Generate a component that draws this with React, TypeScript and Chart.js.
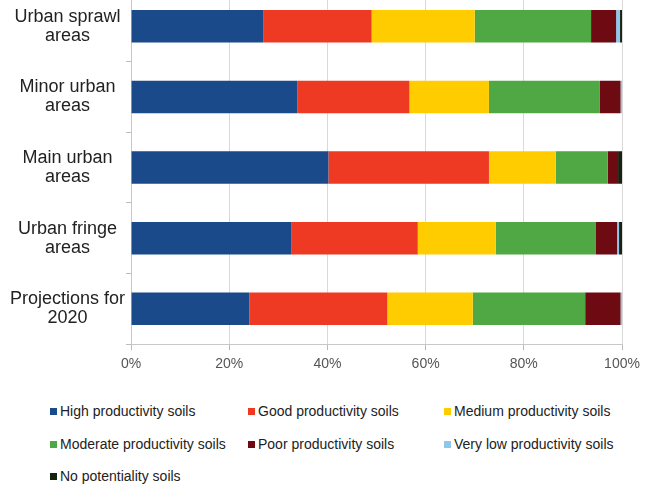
import React, { useEffect, useRef } from "react";
import { Chart, registerables } from "chart.js";

Chart.register(...registerables);

const categories: string[][] = [
  ["Urban sprawl", "areas"],
  ["Minor urban", "areas"],
  ["Main urban", "areas"],
  ["Urban fringe", "areas"],
  ["Projections for", "2020"],
];

const seriesNames = [
  "High productivity soils",
  "Good productivity soils",
  "Medium productivity soils",
  "Moderate productivity soils",
  "Poor productivity soils",
  "Very low productivity soils",
  "No potentiality soils",
];

const highProductivity = [26.9, 33.9, 40.2, 32.7, 24.1];
const goodProductivity = [22.1, 22.8, 32.7, 25.7, 28.1];
const mediumProductivity = [21.0, 16.2, 13.6, 15.9, 17.4];
const moderateProductivity = [23.7, 22.6, 10.6, 20.4, 22.9];
const poorProductivity = [5.1, 4.2, 2.1, 4.3, 7.2];
const veryLowProductivity = [0.8, 0.3, 0.0, 0.4, 0.3];
const noPotentiality = [0.4, 0.0, 0.8, 0.6, 0.0];

const xTicks = [0, 20, 40, 60, 80, 100];

const colors = ["#1b4a8a", "#ee3a23", "#ffcc00", "#4fa843", "#6d0a12", "#8fc6ec", "#16230f"];

const seriesValues = [
  highProductivity,
  goodProductivity,
  mediumProductivity,
  moderateProductivity,
  poorProductivity,
  veryLowProductivity,
  noPotentiality,
];

const FONT = "'Liberation Sans', Arial, sans-serif";

export default function App() {
  const ref = useRef<HTMLCanvasElement | null>(null);

  useEffect(() => {
    if (!ref.current) return;
    const chart = new Chart(ref.current, {
      type: "bar",
      data: {
        labels: categories,
        datasets: seriesNames.map((name, i) => ({
          label: name,
          data: seriesValues[i],
          backgroundColor: colors[i],
          borderWidth: 0,
          barPercentage: 0.46,
          categoryPercentage: 1,
        })),
      },
      options: {
        indexAxis: "y",
        animation: false,
        responsive: true,
        maintainAspectRatio: false,
        layout: { padding: { left: 9, right: 35, top: 0, bottom: 4 } },
        plugins: { legend: { display: false }, tooltip: { enabled: false } },
        scales: {
          x: {
            stacked: true,
            min: 0,
            max: 100,
            afterBuildTicks: (axis: any) => {
              axis.ticks = xTicks.map((v) => ({ value: v }));
            },
            ticks: {
              callback: (v: any) => v + "%",
              color: "#555",
              font: { family: FONT, size: 14 },
              padding: 6,
            },
            grid: { color: "#d9d9d9", tickColor: "#bbb", tickLength: 6 },
            border: { color: "#c8c8c8" },
          },
          y: {
            stacked: true,
            ticks: {
              color: "#222",
              font: { family: FONT, size: 18, lineHeight: 1.05 },
              crossAlign: "center",
              padding: 1,
            },
            grid: { drawOnChartArea: false, tickColor: "#bbb", tickLength: 5 },
            border: { color: "#c8c8c8" },
          },
        },
      },
    });
    return () => chart.destroy();
  }, []);

  const legendCols = [50, 248, 444];
  const legendRows = [411, 444, 476];

  return (
    <div style={{ position: "absolute", left: 0, top: 0, width: 657, height: 484, background: "#fff", overflow: "hidden" }}>
      <div style={{ position: "absolute", left: 0, top: -29, width: 657, height: 412 }}>
        <canvas ref={ref} />
      </div>
      {seriesNames.map((name, i) => (
        <div
          key={name}
          style={{
            position: "absolute",
            left: legendCols[i % 3],
            top: legendRows[Math.floor(i / 3)] - 8,
            height: 16,
            display: "flex",
            alignItems: "center",
            fontFamily: FONT,
            fontSize: 14,
            color: "#222",
            whiteSpace: "nowrap",
          }}
        >
          <span style={{ display: "inline-block", width: 7, height: 7, background: colors[i], marginRight: 3 }} />
          {name}
        </div>
      ))}
    </div>
  );
}
